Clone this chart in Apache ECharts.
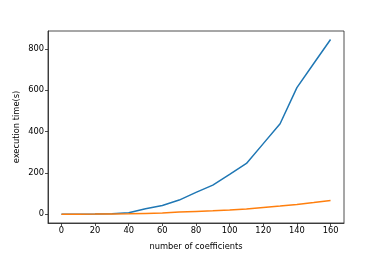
<!DOCTYPE html>
<html><head><meta charset="utf-8">
<script src="https://cdn.jsdelivr.net/npm/echarts@6/dist/echarts.min.js"></script>
<style>html,body{margin:0;padding:0;background:#fff}#c{width:383px;height:256px}</style>
</head><body><div id="c"></div>
<script>
const coefficients = [0,10,20,30,40,50,60,70,80,90,100,110,120,130,140,150,160];
const seriesA = [0,0.5,1,3,8,27,43,69,106,141,193,246,342,438,613,730,846];
const seriesB = [0,0.3,1,2,3,4.5,6,11,14,17,21,26,33,40,48,57,67];
const xTicks = [0,20,40,60,80,100,120,140,160];
const yTicks = [0,200,400,600,800];
const xLabel = 'number of coefficients';
const yLabel = 'execution time(s)';

const font = 'DejaVu Sans';
const chart = echarts.init(document.getElementById('c'), null, {renderer:'canvas'});
const axisCommon = {
  axisLine:{show:true,onZero:false,lineStyle:{color:'#222',width:0.8}},
  axisTick:{show:true,inside:false,length:3,lineStyle:{color:'#222',width:0.8}},
  splitLine:{show:false},
  axisLabel:{color:'#000',fontFamily:font,fontSize:8.3,margin:4},
  nameTextStyle:{color:'#000',fontFamily:font,fontSize:8.3}
};
chart.setOption({
  animation:false,
  grid:{left:48,top:31,right:39,bottom:33,show:true,borderColor:'#222',borderWidth:0.8,containLabel:false},
  xAxis:Object.assign({}, axisCommon, {
    type:'value', min:-8, max:168,
    name:xLabel, nameLocation:'middle', nameGap:20, nameMoveOverlap:false,
    axisTick:Object.assign({}, axisCommon.axisTick, {customValues:xTicks}),
    axisLabel:Object.assign({}, axisCommon.axisLabel, {customValues:xTicks})
  }),
  yAxis:Object.assign({}, axisCommon, {
    type:'value', min:-42, max:887,
    name:yLabel, nameLocation:'middle', nameGap:27, nameMoveOverlap:false,
    axisTick:Object.assign({}, axisCommon.axisTick, {customValues:yTicks}),
    axisLabel:Object.assign({}, axisCommon.axisLabel, {customValues:yTicks})
  }),
  series:[
    {type:'line', data:coefficients.map((x,i)=>[x,seriesA[i]]), showSymbol:false, lineStyle:{color:'#1f77b4',width:1.5}, itemStyle:{color:'#1f77b4'}},
    {type:'line', data:coefficients.map((x,i)=>[x,seriesB[i]]), showSymbol:false, lineStyle:{color:'#ff7f0e',width:1.5}, itemStyle:{color:'#ff7f0e'}}
  ]
});
</script></body></html>
